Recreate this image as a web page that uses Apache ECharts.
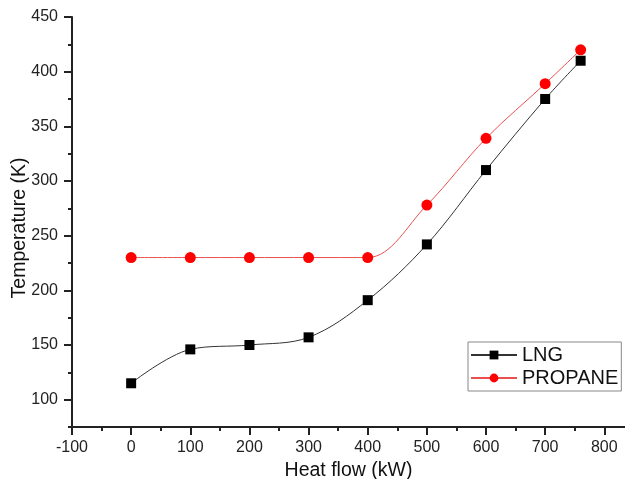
<!DOCTYPE html>
<html>
<head>
<meta charset="utf-8">
<script src="https://cdn.jsdelivr.net/npm/echarts@6/dist/echarts.min.js"></script>
<style>
  html, body { margin: 0; padding: 0; background: #fff; }
  #chart { width: 625px; height: 479px; }
</style>
</head>
<body>
<div id="chart"></div>
<script>
  // heat flow (kW)
  var heatFlow = [0, 100, 200, 300, 400, 500, 600, 700, 760];
  // temperature (K)
  var lngTemp = [115, 146, 150, 157, 191, 242, 310, 375, 410];
  var propaneTemp = [230, 230, 230, 230, 230, 278, 339, 389, 420];

  var xTicks = [-100, 0, 100, 200, 300, 400, 500, 600, 700, 800];
  var xMinor = [-50, 50, 150, 250, 350, 450, 550, 650, 750];
  var yTicks = [100, 150, 200, 250, 300, 350, 400, 450];
  var yMinor = [75, 125, 175, 225, 275, 325, 375, 425];

  function pairs(xs, ys) {
    return xs.map(function (x, i) { return [x, ys[i]]; });
  }

  var font = 'Liberation Sans, Arial, sans-serif';
  var chart = echarts.init(document.getElementById('chart'));

  var option = {
    animation: false,
    grid: { left: 72, right: 0, top: 17, bottom: 52, outerBoundsMode: 'none' },
    // y axis title, placed by hand (axis name kept drifting)
    graphic: [{
      type: 'text',
      x: 20, y: 228,
      rotation: Math.PI / 2,
      style: {
        text: 'Temperature (K)',
        font: '19.5px ' + font,
        fill: '#111',
        align: 'center',
        verticalAlign: 'middle'
      }
    }],
    legend: {
      left: 468, top: 342,
      orient: 'vertical',
      itemWidth: 46, itemHeight: 11, itemGap: 3,
      padding: [3, 3, 3, 2],
      borderColor: '#888', borderWidth: 1,
      textStyle: { fontFamily: font, fontSize: 20, color: '#111', padding: [0, 0, 0, 0] },
      data: ['LNG', 'PROPANE']
    },
    xAxis: [{
      type: 'value', min: -100, max: 835,
      name: 'Heat flow (kW)', nameLocation: 'middle', nameGap: 34,
      nameTextStyle: { fontFamily: font, fontSize: 19.5, color: '#111' },
      splitLine: { show: false },
      axisLine: { onZero: false, lineStyle: { color: '#222', width: 2 } },
      axisTick: { customValues: xTicks, length: 8, lineStyle: { color: '#222', width: 2 } },
      axisLabel: { customValues: xTicks, margin: 13, fontFamily: font, fontSize: 16, color: '#222' }
    }, {
      type: 'value', min: -100, max: 835, position: 'bottom',
      splitLine: { show: false },
      axisLine: { show: false, onZero: false },
      axisTick: { customValues: xMinor, length: 4, lineStyle: { color: '#222', width: 2 } },
      axisLabel: { show: false }
    }],
    yAxis: [{
      type: 'value', min: 75, max: 450,
      splitLine: { show: false },
      axisLine: { show: true, onZero: false, lineStyle: { color: '#222', width: 2 } },
      axisTick: { show: true, customValues: yTicks, length: 8, lineStyle: { color: '#222', width: 2 } },
      axisLabel: { customValues: yTicks, margin: 14, fontFamily: font, fontSize: 16, color: '#222' }
    }, {
      type: 'value', min: 75, max: 450, position: 'left',
      splitLine: { show: false },
      axisLine: { show: false, onZero: false },
      axisTick: { show: true, customValues: yMinor, length: 4, lineStyle: { color: '#222', width: 2 } },
      axisLabel: { show: false }
    }],
    series: [{
      name: 'LNG',
      type: 'line',
      smooth: 0.35,
      symbol: 'rect', symbolSize: 10,
      itemStyle: { color: '#000' },
      lineStyle: { color: '#333', width: 1 },
      data: pairs(heatFlow, lngTemp)
    }, {
      name: 'PROPANE',
      type: 'line',
      smooth: 0.35,
      symbol: 'circle', symbolSize: 11,
      itemStyle: { color: '#f00' },
      lineStyle: { color: '#e85050', width: 1 },
      data: pairs(heatFlow, propaneTemp)
    }]
  };
  chart.setOption(option);
</script>
</body>
</html>
